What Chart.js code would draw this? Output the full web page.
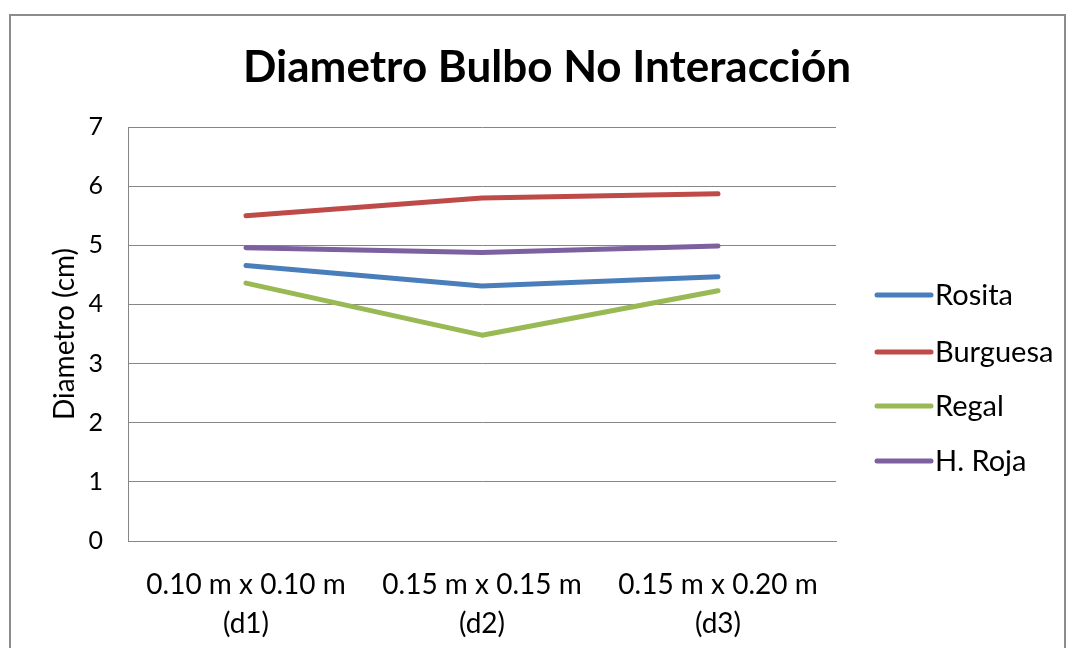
<!DOCTYPE html>
<html>
<head>
<meta charset="utf-8">
<script src="https://cdn.jsdelivr.net/npm/chart.js@4"></script>
<style>
	html, body { margin: 0; padding: 0; background: #fff; overflow: hidden; }
	#wrap { position: relative; width: 1070px; height: 648px; }
	#frame { position: absolute; left: 9px; top: 14px; width: 1057px; height: 700px; border: 2px solid #8c8c8c; box-sizing: border-box; }
	canvas { position: absolute; left: 0; top: 0; }
</style>
</head>
<body>
<div id="wrap">
	<div id="frame"></div>
	<canvas id="diametroChart" width="1070" height="648"></canvas>
</div>
<script>
const categories = [['0.10 m x 0.10 m', '(d1)'], ['0.15 m x 0.15 m', '(d2)'], ['0.15 m x 0.20 m', '(d3)']];
const rosita = [4.66, 4.31, 4.47];
const burguesa = [5.50, 5.80, 5.87];
const regal = [4.36, 3.48, 4.23];
const hRoja = [4.96, 4.88, 4.99];
const yTicks = [0, 1, 2, 3, 4, 5, 6, 7];

const fontFamily = 'Lato, "Noto Sans", sans-serif';

// title + legend drawn by hand so they sit where the original has them
const extrasPlugin = {
	id: 'extras',
	afterDraw: function(chart) {
		var ctx = chart.ctx;
		ctx.save();
		ctx.fillStyle = '#000';
		ctx.font = 'bold 44px ' + fontFamily;
		ctx.textAlign = 'center';
		ctx.textBaseline = 'middle';
		ctx.fillText('Diametro Bulbo No Interacción', 547, 68);

		ctx.font = '29px ' + fontFamily;
		ctx.textAlign = 'left';
		var rows = [295, 352, 406, 461];
		chart.data.datasets.forEach(function(ds, i) {
			ctx.strokeStyle = ds.borderColor;
			ctx.lineWidth = 5;
			ctx.lineCap = 'round';
			ctx.beginPath();
			ctx.moveTo(877, rows[i]);
			ctx.lineTo(931, rows[i]);
			ctx.stroke();
			ctx.fillText(ds.label, 935, rows[i] + 1);
		});
		ctx.restore();
	}
};

function makeSeries(label, color, values) {
	return {
		label: label,
		data: values,
		borderColor: color,
		backgroundColor: color,
		borderWidth: 5,
		borderCapStyle: 'round',
		borderJoinStyle: 'round',
		pointRadius: 0,
		tension: 0,
		fill: false
	};
}

var ctx = document.getElementById('diametroChart').getContext('2d');
var chart = new Chart(ctx, {
	type: 'line',
	data: {
		labels: categories,
		datasets: [
			makeSeries('Rosita', '#4a7ebb', rosita),
			makeSeries('Burguesa', '#be4b48', burguesa),
			makeSeries('Regal', '#98b954', regal),
			makeSeries('H. Roja', '#7d60a0', hRoja)
		]
	},
	options: {
		responsive: false,
		animation: false,
		layout: { padding: { left: 10, right: 234, top: 127, bottom: 0 } },
		plugins: {
			legend: { display: false },
			title: { display: false },
			tooltip: { enabled: false }
		},
		scales: {
			x: {
				offset: true,
				grid: { display: false, drawTicks: false },
				border: { display: true, color: '#868686', width: 1 },
				ticks: {
					color: '#000',
					padding: 24,
					maxRotation: 0,
					autoSkip: false,
					font: { family: fontFamily, size: 28, lineHeight: 1.4 }
				},
				afterFit: function(scale) { scale.height = 107; }
			},
			y: {
				min: 0,
				max: 7,
				afterBuildTicks: function(scale) {
					scale.ticks = yTicks.map(function(v) { return { value: v }; });
				},
				grid: { color: '#868686', lineWidth: 1, drawTicks: false },
				border: { display: true, color: '#868686', width: 1 },
				ticks: {
					color: '#000',
					padding: 25,
					font: { family: fontFamily, size: 25 }
				},
				title: {
					display: true,
					text: 'Diametro (cm)',
					color: '#000',
					padding: { top: 38, bottom: 0 },
					font: { family: fontFamily, size: 28, lineHeight: 1.2 }
				},
				afterFit: function(scale) { scale.width = 118; }
			}
		}
	},
	plugins: [extrasPlugin]
});
</script>
</body>
</html>
